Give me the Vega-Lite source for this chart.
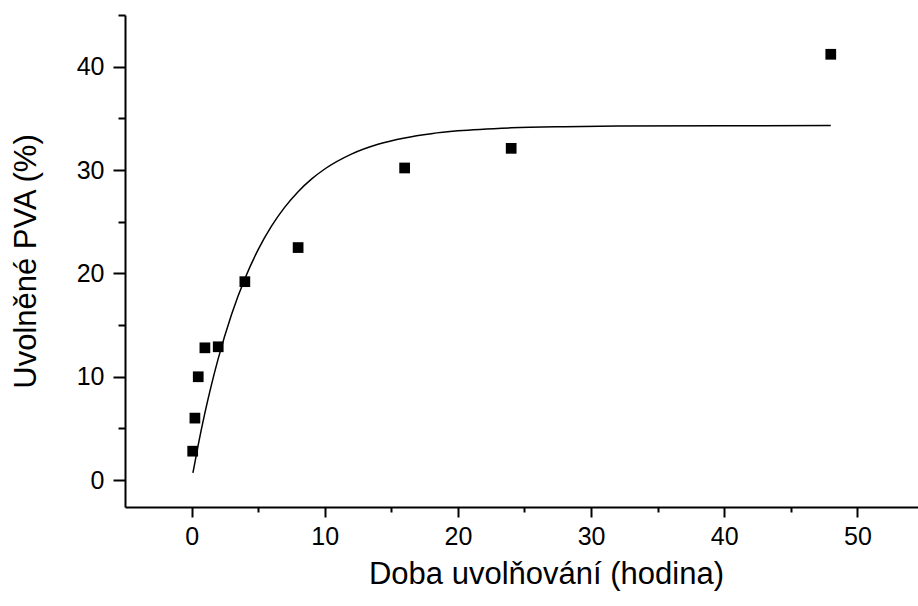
{
  "$schema": "https://vega.github.io/schema/vega-lite/v6.json",
  "autosize": "none",
  "width": 793,
  "height": 492,
  "padding": {"left": 125, "top": 15, "right": 0, "bottom": 99},
  "background": "white",
  "config": {
    "view": {"stroke": null},
    "font": "Liberation Sans",
    "axis": {
      "grid": false,
      "domainColor": "black",
      "domainWidth": 2,
      "tickColor": "black",
      "tickWidth": 2,
      "labelColor": "black",
      "titleColor": "black",
      "labelFont": "Liberation Sans",
      "titleFont": "Liberation Sans",
      "titleFontWeight": "normal",
      "labelFontSize": 25,
      "titleFontSize": 31
    }
  },
  "datasets": {
    "points": [
      {"t": 0.083, "r": 2.8},
      {"t": 0.25, "r": 6.0},
      {"t": 0.5, "r": 10.0},
      {"t": 1, "r": 12.8},
      {"t": 2, "r": 12.9},
      {"t": 4, "r": 19.2},
      {"t": 8, "r": 22.5},
      {"t": 16, "r": 30.2},
      {"t": 24, "r": 32.1},
      {"t": 48, "r": 41.2}
    ],
    "fit": [
      {"t": 0.1, "r": 0.71},
      {"t": 0.5, "r": 3.42},
      {"t": 1, "r": 6.5},
      {"t": 1.5, "r": 9.27},
      {"t": 2, "r": 11.76},
      {"t": 3, "r": 16.03},
      {"t": 4, "r": 19.49},
      {"t": 5, "r": 22.3},
      {"t": 6, "r": 24.57},
      {"t": 7, "r": 26.41},
      {"t": 8, "r": 27.91},
      {"t": 9, "r": 29.12},
      {"t": 10, "r": 30.1},
      {"t": 12, "r": 31.54},
      {"t": 14, "r": 32.49},
      {"t": 16, "r": 33.11},
      {"t": 18, "r": 33.52},
      {"t": 20, "r": 33.79},
      {"t": 24, "r": 34.08},
      {"t": 28, "r": 34.2},
      {"t": 32, "r": 34.26},
      {"t": 40, "r": 34.29},
      {"t": 48, "r": 34.3}
    ]
  },
  "encoding": {
    "x": {
      "field": "t",
      "type": "quantitative",
      "scale": {"domain": [-5, 54.55], "nice": false, "zero": false},
      "axis": {
        "title": "Doba uvolňování (hodina)",
        "values": [0, 5, 10, 15, 20, 25, 30, 35, 40, 45, 50],
        "labelExpr": "datum.value % 10 === 0 ? datum.label : ''",
        "labelFontSize": 25,
        "tickSize": {"condition": {"test": "datum.value % 10 === 0", "value": 10}, "value": 5},
        "labelPadding": 7,
        "labelFlush": false,
        "titleX": 421,
        "titleY": 76,
        "titleAlign": "center",
        "titleBaseline": "alphabetic",
        "titleAnchor": null
      }
    },
    "y": {
      "field": "r",
      "type": "quantitative",
      "scale": {"domain": [-2.6, 45], "nice": false, "zero": false},
      "axis": {
        "title": "Uvolněné PVA (%)",
        "values": [0, 5, 10, 15, 20, 25, 30, 35, 40, 45],
        "labelExpr": "datum.value % 10 === 0 ? datum.label : ''",
        "labelFontSize": 25,
        "tickSize": {"condition": {"test": "datum.value % 10 === 0", "value": 12}, "value": 7},
        "labelPadding": 9,
        "labelFlush": false,
        "titleAngle": -90,
        "titleX": -90,
        "titleY": 246,
        "titleAlign": "center",
        "titleBaseline": "alphabetic"
      }
    }
  },
  "layer": [
    {
      "data": {"name": "fit"},
      "mark": {"type": "line", "color": "black", "strokeWidth": 1.5, "interpolate": "monotone"}
    },
    {
      "data": {"name": "points"},
      "mark": {"type": "point", "shape": "square", "filled": true, "color": "black", "opacity": 1, "size": 115}
    }
  ]
}
